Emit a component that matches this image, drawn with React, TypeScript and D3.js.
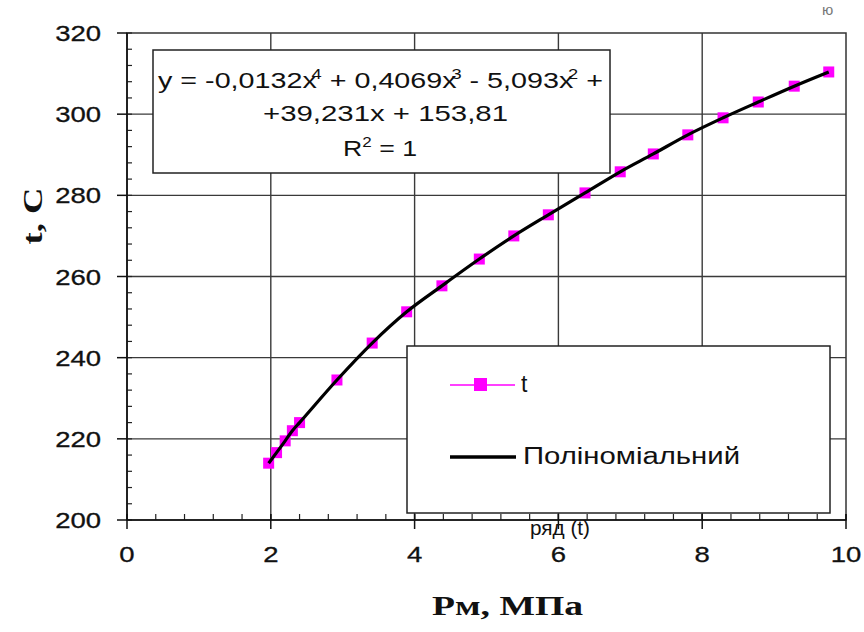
import React, { useEffect, useRef } from "react";
import * as d3 from "d3";

// Data
const pressure = [1.97, 2.08, 2.2, 2.3, 2.4, 2.92, 3.41, 3.89, 4.38, 4.9, 5.38, 5.86, 6.37, 6.86, 7.32, 7.8, 8.29, 8.78, 9.28, 9.76];
const temperature = [214.0, 216.6, 219.5, 222.0, 224.0, 234.5, 243.6, 251.3, 257.7, 264.3, 270.0, 275.2, 280.6, 285.8, 290.2, 294.9, 299.1, 303.0, 306.9, 310.4];
const xTicks = [0, 2, 4, 6, 8, 10];
const yTicks = [200, 220, 240, 260, 280, 300, 320];
const seriesName = "t";
const trendName = "Поліноміальний";
const seriesCaption = "ряд (t)";
const xTitle = "Рм, МПа";
const yTitle = "t, C";
const eqLine2 = "+39,231x + 153,81";

export default function App() {
  const ref = useRef<SVGSVGElement>(null);

  useEffect(() => {
    const svg = d3.select(ref.current);
    svg.selectAll("*").remove();

    const L = 127, R = 846, T = 33, B = 520;
    const x = d3.scaleLinear().domain([0, 10]).range([L, R]);
    const y = d3.scaleLinear().domain([200, 320]).range([B, T]);
    const sans = "'Liberation Sans', Arial, sans-serif";
    const serif = "'Liberation Serif', 'Times New Roman', serif";

    svg.append("rect").attr("width", 864).attr("height", 632).attr("fill", "#fff");

    // grid
    const g = svg.append("g");
    g.selectAll("line.vg").data(xTicks.filter(d => d > 0 && d < 10)).enter().append("line")
      .attr("x1", d => x(d)).attr("x2", d => x(d)).attr("y1", T).attr("y2", B)
      .attr("stroke", "#3a3a3a").attr("stroke-width", 1.4);
    g.selectAll("line.hg").data(yTicks.filter(d => d > 200 && d < 320)).enter().append("line")
      .attr("x1", L).attr("x2", R).attr("y1", d => y(d)).attr("y2", d => y(d))
      .attr("stroke", "#3a3a3a").attr("stroke-width", 1.4);
    // frame
    g.append("rect").attr("x", L).attr("y", T).attr("width", R - L).attr("height", B - T)
      .attr("fill", "none").attr("stroke", "#333").attr("stroke-width", 1.5);

    // minor ticks
    const xMinor = d3.range(0, 10.001, 0.4).map(v => +v.toFixed(2));
    g.selectAll("line.xm").data(xMinor).enter().append("line")
      .attr("x1", d => x(d)).attr("x2", d => x(d)).attr("y1", B).attr("y2", B - 6)
      .attr("stroke", "#222").attr("stroke-width", 1.2);
    const yMinor = d3.range(200, 320.001, 4);
    g.selectAll("line.ym").data(yMinor).enter().append("line")
      .attr("x1", L).attr("x2", L + 5).attr("y1", d => y(d)).attr("y2", d => y(d))
      .attr("stroke", "#222").attr("stroke-width", 1.2);
    // major ticks
    g.selectAll("line.xM").data(xTicks).enter().append("line")
      .attr("x1", d => x(d)).attr("x2", d => x(d)).attr("y1", B - 6).attr("y2", B + 9)
      .attr("stroke", "#111").attr("stroke-width", 1.5);
    g.selectAll("line.yM").data(yTicks).enter().append("line")
      .attr("x1", L - 10).attr("x2", L).attr("y1", d => y(d)).attr("y2", d => y(d))
      .attr("stroke", "#111").attr("stroke-width", 1.5);
    // axes
    g.append("line").attr("x1", L).attr("x2", L).attr("y1", T).attr("y2", B).attr("stroke", "#111").attr("stroke-width", 1.6);
    g.append("line").attr("x1", L).attr("x2", R).attr("y1", B).attr("y2", B).attr("stroke", "#111").attr("stroke-width", 1.6);

    // tick labels
    g.selectAll("text.xl").data(xTicks).enter().append("text")
      .attr("transform", d => `translate(${x(d)},562) scale(1.25,1)`)
      .attr("text-anchor", "middle").attr("font-family", sans).attr("font-size", 22).attr("fill", "#111")
      .attr("stroke", "#111").attr("stroke-width", 0.3)
      .text(d => d);
    g.selectAll("text.yl").data(yTicks).enter().append("text")
      .attr("transform", d => `translate(101,${y(d) + 8}) scale(1.25,1)`)
      .attr("text-anchor", "end").attr("font-family", sans).attr("font-size", 22).attr("fill", "#111")
      .attr("stroke", "#111").attr("stroke-width", 0.3)
      .text(d => d);

    // series
    const pts = pressure.map((p, i) => [p, temperature[i]] as [number, number]);
    const straight = d3.line<[number, number]>().x(d => x(d[0])).y(d => y(d[1]));
    svg.append("path").attr("d", straight(pts)).attr("fill", "none").attr("stroke", "#ff00ff").attr("stroke-width", 1);
    svg.selectAll("rect.m").data(pts).enter().append("rect")
      .attr("x", d => x(d[0]) - 5.5).attr("y", d => y(d[1]) - 5.5).attr("width", 11).attr("height", 11)
      .attr("fill", "#ff00ff");
    const smooth = d3.line<[number, number]>().x(d => x(d[0])).y(d => y(d[1])).curve(d3.curveMonotoneX);
    svg.append("path").attr("d", smooth(pts)).attr("fill", "none").attr("stroke", "#000").attr("stroke-width", 3.2);

    // equation box
    svg.append("rect").attr("x", 153).attr("y", 50).attr("width", 457).attr("height", 123)
      .attr("fill", "#fff").attr("stroke", "#222").attr("stroke-width", 1.5);
    const eq1 = svg.append("text").attr("x", 158).attr("y", 88).attr("font-family", sans).attr("font-size", 22)
      .attr("fill", "#111").attr("textLength", 445).attr("lengthAdjust", "spacingAndGlyphs");
    const parts: [string, boolean][] = [["y = -0,0132x", false], ["4", true], [" + 0,4069x", false], ["3", true], [" - 5,093x", false], ["2", true], [" +", false]];
    parts.forEach(([t, sup]) => {
      if (sup) eq1.append("tspan").attr("dy", -9).attr("dx", -4).attr("font-size", 14).text(t);
      else eq1.append("tspan").attr("dy", t.startsWith("y") ? 0 : 9).text(t);
    });
    svg.append("text").attr("x", 263).attr("y", 121).attr("font-family", sans).attr("font-size", 22)
      .attr("fill", "#111").attr("textLength", 245).attr("lengthAdjust", "spacingAndGlyphs").text(eqLine2);
    const eq3 = svg.append("text").attr("x", 343).attr("y", 156).attr("font-family", sans).attr("font-size", 22)
      .attr("fill", "#111").attr("textLength", 74).attr("lengthAdjust", "spacingAndGlyphs");
    eq3.append("tspan").text("R");
    eq3.append("tspan").attr("dy", -9).attr("font-size", 14).text("2");
    eq3.append("tspan").attr("dy", 9).text(" = 1");

    // legend
    svg.append("rect").attr("x", 407).attr("y", 346).attr("width", 423).attr("height", 167)
      .attr("fill", "#fff").attr("stroke", "#222").attr("stroke-width", 1.5);
    svg.append("line").attr("x1", 450).attr("x2", 515).attr("y1", 385).attr("y2", 385).attr("stroke", "#ff00ff").attr("stroke-width", 1.5);
    svg.append("rect").attr("x", 474).attr("y", 378).attr("width", 13).attr("height", 13).attr("fill", "#ff00ff");
    svg.append("text").attr("x", 521).attr("y", 392).attr("font-family", sans).attr("font-size", 23).attr("fill", "#111").text(seriesName);
    svg.append("line").attr("x1", 450).attr("x2", 516).attr("y1", 457).attr("y2", 457).attr("stroke", "#000").attr("stroke-width", 3.5);
    svg.append("text").attr("x", 523).attr("y", 464).attr("font-family", sans).attr("font-size", 23).attr("fill", "#111")
      .attr("textLength", 217).attr("lengthAdjust", "spacingAndGlyphs").text(trendName);

    // caption under axis
    svg.append("text").attr("x", 530).attr("y", 535).attr("font-family", sans).attr("font-size", 21).attr("fill", "#111")
      .attr("textLength", 60).attr("lengthAdjust", "spacingAndGlyphs").text(seriesCaption);

    // axis titles
    svg.append("text").attr("x", 432).attr("y", 615).attr("font-family", serif).attr("font-weight", "bold").attr("font-size", 28)
      .attr("fill", "#111").attr("textLength", 151).attr("lengthAdjust", "spacingAndGlyphs").text(xTitle);
    svg.append("text").attr("transform", "translate(42,216) rotate(-90)").attr("text-anchor", "middle")
      .attr("font-family", serif).attr("font-weight", "bold").attr("font-size", 28).attr("fill", "#111")
      .attr("textLength", 57).attr("lengthAdjust", "spacingAndGlyphs").text(yTitle);

    // fragment at top right
    svg.append("text").attr("x", 822).attr("y", 15).attr("font-family", sans).attr("font-size", 15).attr("fill", "#777").text("ю");
  }, []);

  return (
    <svg ref={ref} width={864} height={632} style={{ position: "absolute", left: 0, top: 0, background: "#fff" }} />
  );
}
